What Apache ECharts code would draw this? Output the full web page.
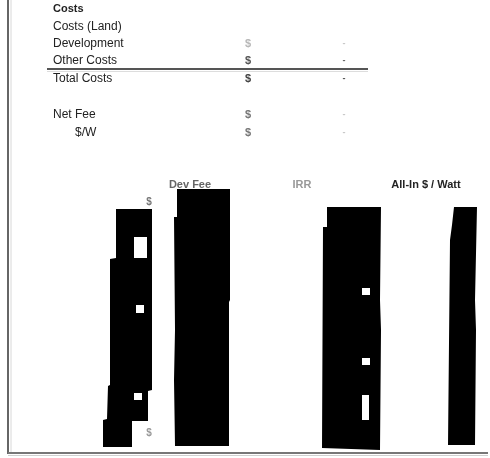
<!DOCTYPE html>
<html>
<head>
<meta charset="utf-8">
<script src="https://cdn.jsdelivr.net/npm/echarts@6/dist/echarts.min.js"></script>
<style>
  html, body { margin: 0; padding: 0; background: #ffffff; }
  #chart { width: 490px; height: 458px; }
</style>
</head>
<body>
<div id="chart"></div>
<script>
// Summary table rows (label, currency mark, value shown as a dash)
const rowLabels = ['Costs', 'Costs (Land)', 'Development', 'Other Costs', 'Total Costs', 'Net Fee', '$/W'];
const rowCurrency = ['', '', '$', '$', '$', '$', '$'];
const rowValues = ['', '', '-', '-', '-', '-', '-'];

// Column headers of the lower block
const columnHeaders = ['Dev Fee', 'IRR', 'All-In $ / Watt'];

// Redacted columns, as outlines in sheet units (x across, y down)
const leftColumn = [[116,209],[152,209],[152,390],[148,391],[148,421],[132,421],[132,447],[103,447],[103,420],[107,419],[108,386],[110,385],[110,259],[116,258]];
const devFeeColumn = [[177,189],[230,189],[230,300],[229,302],[229,446],[175,446],[174,380],[175,330],[174,217],[177,217]];
const irrColumn = [[327,207],[381,207],[380,300],[381,330],[380,450],[322,448],[323,227],[327,227]];
const allInColumn = [[454,207],[477,207],[475,300],[476,330],[475,445],[448,445],[450,240],[452,225]];
const redactedColumns = [leftColumn, devFeeColumn, irrColumn, allInColumn];

// Gaps left open inside the redactions: [x0, y0, x1, y1]
const openGaps = [
  [134,237,147,258], [136,305,144,313], [134,393,142,400],
  [362,288,370,295], [362,358,370,365], [362,395,369,420]
];

const chart = echarts.init(document.getElementById('chart'), null, { renderer: 'canvas' });

const FONT = '"Liberation Sans", Arial, sans-serif';

function text(str, x, y, opts) {
  return {
    type: 'text', z: 0,
    style: Object.assign({
      text: str, x: x, y: y, fill: '#333', font: '12px ' + FONT,
      textVerticalAlign: 'middle', textAlign: 'left'
    }, opts || {})
  };
}

const rowY = [9, 27, 44, 61, 79, 115, 133];
const currencyColours = ['', '', '#b8b8b8', '#555555', '#444444', '#777777', '#777777'];
const dashColours = ['', '', '#c8c8c8', '#666666', '#555555', '#c8c8c8', '#c8c8c8'];

const graphics = [];
rowLabels.forEach(function (lab, i) {
  const bold = i === 0;
  graphics.push(text(lab, i === 6 ? 75 : 53, rowY[i], {
    font: (bold ? 'bold 11px ' : '12px ') + FONT,
    fill: '#222222'
  }));
  if (rowCurrency[i]) {
    graphics.push(text(rowCurrency[i], 248, rowY[i], {
      textAlign: 'center', font: 'bold 11px ' + FONT, fill: currencyColours[i]
    }));
  }
  if (rowValues[i]) {
    graphics.push(text(rowValues[i], 344, rowY[i], {
      textAlign: 'center', font: 'bold 9px ' + FONT, fill: dashColours[i]
    }));
  }
});

const headerX = [190, 302, 426];
const headerColours = ['#666666', '#999999', '#222222'];
columnHeaders.forEach(function (h, i) {
  graphics.push(text(h, headerX[i], 185, {
    textAlign: 'center', font: 'bold 11px ' + FONT, fill: headerColours[i]
  }));
});

// currency marks beside the left column
graphics.push(text('$', 149, 202, { textAlign: 'center', font: 'bold 10px ' + FONT, fill: '#777' }));
graphics.push(text('$', 149, 433, { textAlign: 'center', font: 'bold 10px ' + FONT, fill: '#999' }));

// sheet rules: totals underline and the printed frame
graphics.push({ type: 'line', z: 1, shape: { x1: 47, y1: 69, x2: 368, y2: 69 }, style: { stroke: '#555', lineWidth: 2 } });
graphics.push({ type: 'line', z: 1, shape: { x1: 47, y1: 71.5, x2: 368, y2: 71.5 }, style: { stroke: '#ddd', lineWidth: 1 } });
graphics.push({ type: 'line', z: 1, shape: { x1: 8, y1: 0, x2: 8, y2: 454 }, style: { stroke: '#666', lineWidth: 2 } });
graphics.push({ type: 'line', z: 1, shape: { x1: 11, y1: 0, x2: 11, y2: 452 }, style: { stroke: '#d8d8d8', lineWidth: 1 } });
graphics.push({ type: 'line', z: 1, shape: { x1: 8, y1: 453, x2: 488, y2: 453 }, style: { stroke: '#777', lineWidth: 2 } });
graphics.push({ type: 'line', z: 1, shape: { x1: 8, y1: 455.5, x2: 488, y2: 455.5 }, style: { stroke: '#d0d0d0', lineWidth: 1 } });

chart.setOption({
  animation: false,
  backgroundColor: '#ffffff',
  grid: { left: 0, right: 0, top: 0, bottom: 0 },
  xAxis: { type: 'value', min: 0, max: 490, show: false },
  yAxis: { type: 'value', min: 0, max: 458, inverse: true, show: false },
  graphic: graphics,
  series: [
    {
      type: 'custom',
      name: 'redactions',
      coordinateSystem: 'cartesian2d',
      clip: false,
      z: 5,
      data: redactedColumns.map(function (_, i) { return [i]; }),
      renderItem: function (params, api) {
        const pts = redactedColumns[api.value(0)].map(function (p) { return api.coord(p); });
        return { type: 'polygon', shape: { points: pts }, style: { fill: '#000000' } };
      }
    },
    {
      type: 'custom',
      name: 'gaps',
      coordinateSystem: 'cartesian2d',
      clip: false,
      z: 6,
      data: openGaps,
      renderItem: function (params, api) {
        const a = api.coord([api.value(0), api.value(1)]);
        const b = api.coord([api.value(2), api.value(3)]);
        return { type: 'rect', shape: { x: a[0], y: a[1], width: b[0] - a[0], height: b[1] - a[1] }, style: { fill: '#ffffff' } };
      }
    }
  ]
});
</script>
</body>
</html>
